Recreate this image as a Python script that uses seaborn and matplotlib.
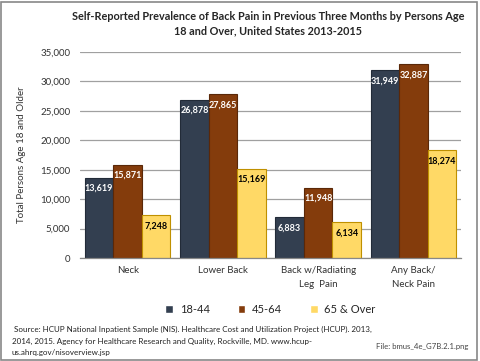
import matplotlib
matplotlib.use("Agg")
import matplotlib.pyplot as plt
import seaborn as sns
import pandas as pd
from matplotlib.patches import Rectangle

categories = ["Neck", "Lower Back", "Back w/Radiating\nLeg  Pain", "Any Back/\nNeck Pain"]
series = ["18-44", "45-64", "65 & Over"]
v_18_44 = [13619, 26878, 6883, 31949]
v_45_64 = [15871, 27865, 11948, 32887]
v_65 = [7248, 15169, 6134, 18274]
yticks = [0, 5000, 10000, 15000, 20000, 25000, 30000, 35000]

rows = []
for s, vals in zip(series, [v_18_44, v_45_64, v_65]):
    for c, v in zip(categories, vals):
        rows.append({"cat": c, "series": s, "value": v})
df = pd.DataFrame(rows)

sns.set_style("white")
plt.rcParams["font.family"] = ["Lato", "DejaVu Sans"]

colors = ["#333F50", "#843C0C", "#FFD966"]
edges = ["#222B38", "#5A2808", "#BF9000"]
txtcol = ["white", "white", "black"]

fig = plt.figure(figsize=(4.8, 3.61), dpi=100)
ax = fig.add_axes([80/480, 1-258/361, 381/480, 206/361])
sns.barplot(data=df, x="cat", y="value", hue="series", palette=colors,
            width=0.9, gap=0, ax=ax, legend=True, saturation=1)

for i, cont in enumerate(ax.containers):
    for bar in cont:
        bar.set_edgecolor(edges[i])
        bar.set_linewidth(0.8)
    ax.bar_label(cont, labels=[f"{int(v):,}" for v in cont.datavalues],
                 label_type="edge", padding=-11, color=txtcol[i],
                 fontsize=6.5, fontweight="bold")

ax.set_ylim(0, 35000)
ax.set_xlim(-0.5, 3.5)
ax.set_yticks(yticks)
ax.set_yticklabels([f"{t:,}" for t in yticks], fontsize=7, color="#333333")
ax.tick_params(axis="x", labelsize=7, length=0, pad=6, colors="#333333")
for lbl in ax.get_xticklabels():
    lbl.set_linespacing(1.6)
ax.tick_params(axis="y", length=4, color="#888888", width=0.8, pad=3)
ax.yaxis.grid(True, color="#A0A0A0", linewidth=0.9)
ax.set_axisbelow(True)
for s in ["left", "top", "right"]:
    ax.spines[s].set_visible(False)
ax.spines["bottom"].set_color("#888888")
ax.spines["bottom"].set_linewidth(0.9)
ax.set_xlabel("")
ax.set_ylabel("Total Persons Age 18 and Older", fontsize=7, color="#333333", labelpad=10)

ax.legend(loc="upper center", bbox_to_anchor=(0.5, -0.175), ncol=3, frameon=False,
          fontsize=8, handlelength=0.7, handleheight=0.7, columnspacing=2.5, handletextpad=0.6)

fig.text(268/480, 1-24/361, "Self-Reported Prevalence of Back Pain in Previous Three Months by Persons Age\n18 and Over, United States 2013-2015",
         ha="center", va="center", fontsize=7.8, fontweight="bold", linespacing=1.35)

fig.text(12/480, 1-341/361,
         " Source: HCUP National Inpatient Sample (NIS). Healthcare Cost and Utilization Project (HCUP). 2013,\n2014, 2015. Agency for Healthcare Research and Quality, Rockville, MD. www.hcup-\nus.ahrq.gov/nisoverview.jsp",
         ha="left", va="center", fontsize=5.8, linespacing=1.75, color="#222222")
fig.text(468/480, 1-347/361, "File: bmus_4e_G7B.2.1.png", ha="right", va="center",
         fontsize=5.6, color="#444444")

fig.add_artist(Rectangle((1/480, 1/361), 476/480, 358/361, transform=fig.transFigure,
                         fill=False, edgecolor="#888888", linewidth=1.2))

fig.savefig("out.png", dpi=100)
